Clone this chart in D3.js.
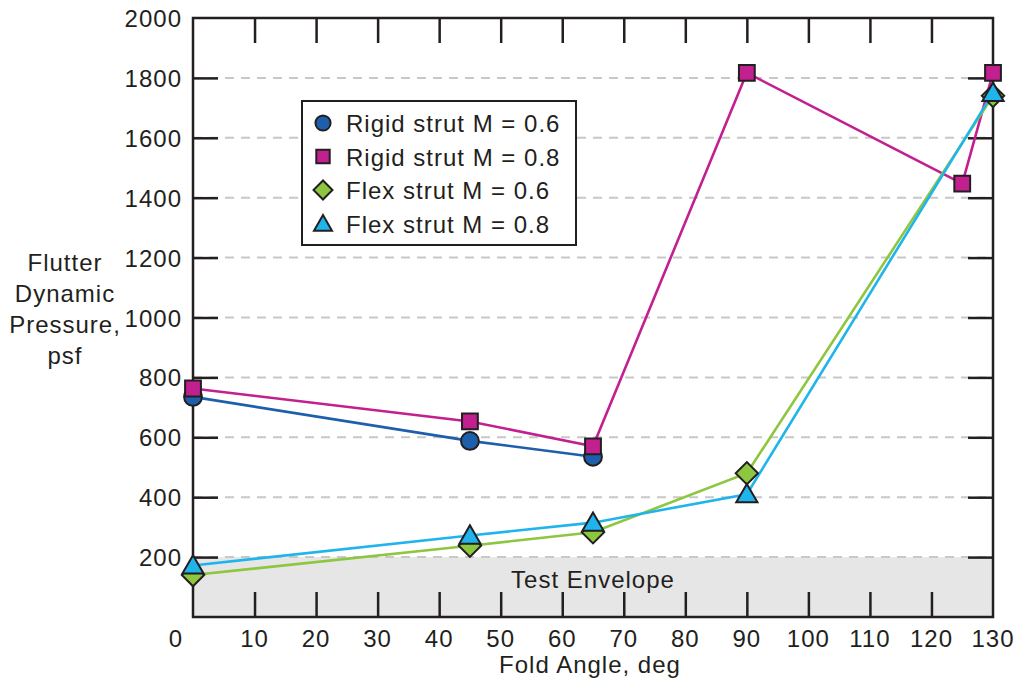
<!DOCTYPE html>
<html>
<head>
<meta charset="utf-8">
<script src="https://cdn.jsdelivr.net/npm/d3@7"></script>
<style>
  body { margin: 0; background: #fff; }
  text { font-family: "Liberation Sans", Arial, Helvetica, sans-serif; fill: #231f20; font-size: 24px; letter-spacing: 1px; }
</style>
</head>
<body>
<svg id="chart" width="1019" height="683"></svg>
<script>
// data
const rigid06 = [[0, 735], [45, 588], [65, 535]]
const rigid08 = [[0, 763], [45, 653], [65, 570], [90, 1817], [125, 1447], [130, 1817]]
const flex06 = [[0, 140], [45, 238], [65, 283], [90, 480], [130, 1740]]
const flex08 = [[0, 172], [45, 272], [65, 315], [90, 410], [130, 1750]]
const xTicks = [0, 10, 20, 30, 40, 50, 60, 70, 80, 90, 100, 110, 120, 130]
const yTicks = [200, 400, 600, 800, 1000, 1200, 1400, 1600, 1800, 2000]
const envelope = 200
const yLabelLines = ["Flutter", "Dynamic", "Pressure,", "psf"]

// diamond = square turned 45deg (d3's symbolDiamond is too tall)
const seriesList = [
  {name: "Rigid strut M = 0.6", data: rigid06, color: "#1d5fab", symbol: d3.symbolCircle, size: 250, rot: 0, dy: 0},
  {name: "Rigid strut M = 0.8", data: rigid08, color: "#c21f8f", symbol: d3.symbolSquare, size: 250, rot: 0, dy: 0},
  {name: "Flex strut M = 0.6", data: flex06, color: "#8dc63f", symbol: d3.symbolSquare, size: 250, rot: 45, dy: 0},
  {name: "Flex strut M = 0.8", data: flex08, color: "#1fb5ec", symbol: d3.symbolTriangle, size: 195, rot: 0, dy: 2},
]

const svg = d3.select("#chart")
const plotLeft = 193, plotRight = 993, plotTop = 18, plotBottom = 617

const x = d3.scaleLinear().domain([0, 130]).range([plotLeft, plotRight])
const y = d3.scaleLinear().domain([0, 2000]).range([plotBottom, plotTop])

// test envelope band
svg.append("rect")
  .attr("x", plotLeft).attr("y", y(envelope))
  .attr("width", plotRight - plotLeft).attr("height", plotBottom - y(envelope))
  .attr("fill", "#e6e6e7")

// dashed grid
svg.append("g").selectAll("line")
  .data(yTicks.filter(d => d < 2000))
  .join("line")
    .attr("x1", plotLeft).attr("x2", plotRight)
    .attr("y1", d => y(d)).attr("y2", d => y(d))
    .attr("stroke", "#c8c8c8")
    .attr("stroke-width", 2)
    .attr("stroke-dasharray", "9,7")

svg.append("text")
  .attr("x", x(65)).attr("y", 588)
  .attr("text-anchor", "middle")
  .text("Test Envelope")

// axes with inward ticks, top/right mirrored
const tickLen = 25
const inner = xTicks.filter(d => d > 0 && d < 130)
const yInner = yTicks.filter(d => d < 2000)
const axBottom = d3.axisBottom(x).tickValues(inner).tickSize(-tickLen).tickFormat("")
const axTop = d3.axisTop(x).tickValues(inner).tickSize(-tickLen).tickFormat("")
const axLeft = d3.axisLeft(y).tickValues(yInner).tickSize(-tickLen).tickFormat("")
const axRight = d3.axisRight(y).tickValues(yInner).tickSize(-tickLen).tickFormat("")

function styleAxis(g) {
  g.select(".domain").remove()
  g.selectAll(".tick line").attr("stroke", "#231f20").attr("stroke-width", 2.5)
}
svg.append("g").attr("transform", `translate(0,${plotBottom})`).call(axBottom).call(styleAxis)
svg.append("g").attr("transform", `translate(0,${plotTop})`).call(axTop).call(styleAxis)
svg.append("g").attr("transform", `translate(${plotLeft},0)`).call(axLeft).call(styleAxis)
svg.append("g").attr("transform", `translate(${plotRight},0)`).call(axRight).call(styleAxis)

svg.append("rect")
  .attr("x", plotLeft).attr("y", plotTop)
  .attr("width", plotRight - plotLeft).attr("height", plotBottom - plotTop)
  .attr("fill", "none").attr("stroke", "#231f20").attr("stroke-width", 2.5)

// tick labels
svg.append("g").selectAll("text")
  .data(xTicks)
  .join("text")
    .attr("x", d => d === 0 ? x(d) - 17 : x(d))
    .attr("y", 647)
    .attr("text-anchor", "middle")
    .text(d => d)

svg.append("g").selectAll("text")
  .data(yTicks)
  .join("text")
    .attr("x", 182)
    .attr("y", d => y(d) + 9)
    .attr("text-anchor", "end")
    .text(d => d)

// axis titles
svg.append("text")
  .attr("x", 590).attr("y", 673)
  .attr("text-anchor", "middle")
  .text("Fold Angle, deg")

svg.append("g").selectAll("text")
  .data(yLabelLines)
  .join("text")
    .attr("x", 65)
    .attr("y", (d, i) => 271 + i * 31)
    .attr("text-anchor", "middle")
    .text(d => d)

// series lines
const line = d3.line().x(d => x(d[0])).y(d => y(d[1]))
svg.append("g").selectAll("path")
  .data(seriesList)
  .join("path")
    .attr("d", d => line(d.data))
    .attr("fill", "none")
    .attr("stroke", d => d.color)
    .attr("stroke-width", 2.6)

// markers
seriesList.forEach(s => {
  svg.append("g").selectAll("path")
    .data(s.data)
    .join("path")
      .attr("transform", d => `translate(${x(d[0])},${y(d[1]) + s.dy}) rotate(${s.rot})`)
      .attr("d", d3.symbol(s.symbol, s.size))
      .attr("fill", s.color)
      .attr("stroke", "#231f20")
      .attr("stroke-width", 2)
})

// legend
const legend = svg.append("g").attr("transform", "translate(302,101)")
legend.append("rect")
  .attr("width", 274).attr("height", 144)
  .attr("fill", "#fff").attr("stroke", "#231f20").attr("stroke-width", 2)

const legendRow = legend.selectAll("g.row")
  .data(seriesList)
  .join("g")
    .attr("class", "row")
    .attr("transform", (d, i) => `translate(0,${22 + i * 33.5})`)

legendRow.append("path")
  .attr("transform", d => `translate(21,${d.dy}) rotate(${d.rot})`)
  .attr("d", d => d3.symbol(d.symbol, d.size * 0.72)())
  .attr("fill", d => d.color)
  .attr("stroke", "#231f20")
  .attr("stroke-width", 2)

legendRow.append("text")
  .attr("x", 44).attr("y", 9)
  .text(d => d.name)
</script>
</body>
</html>
